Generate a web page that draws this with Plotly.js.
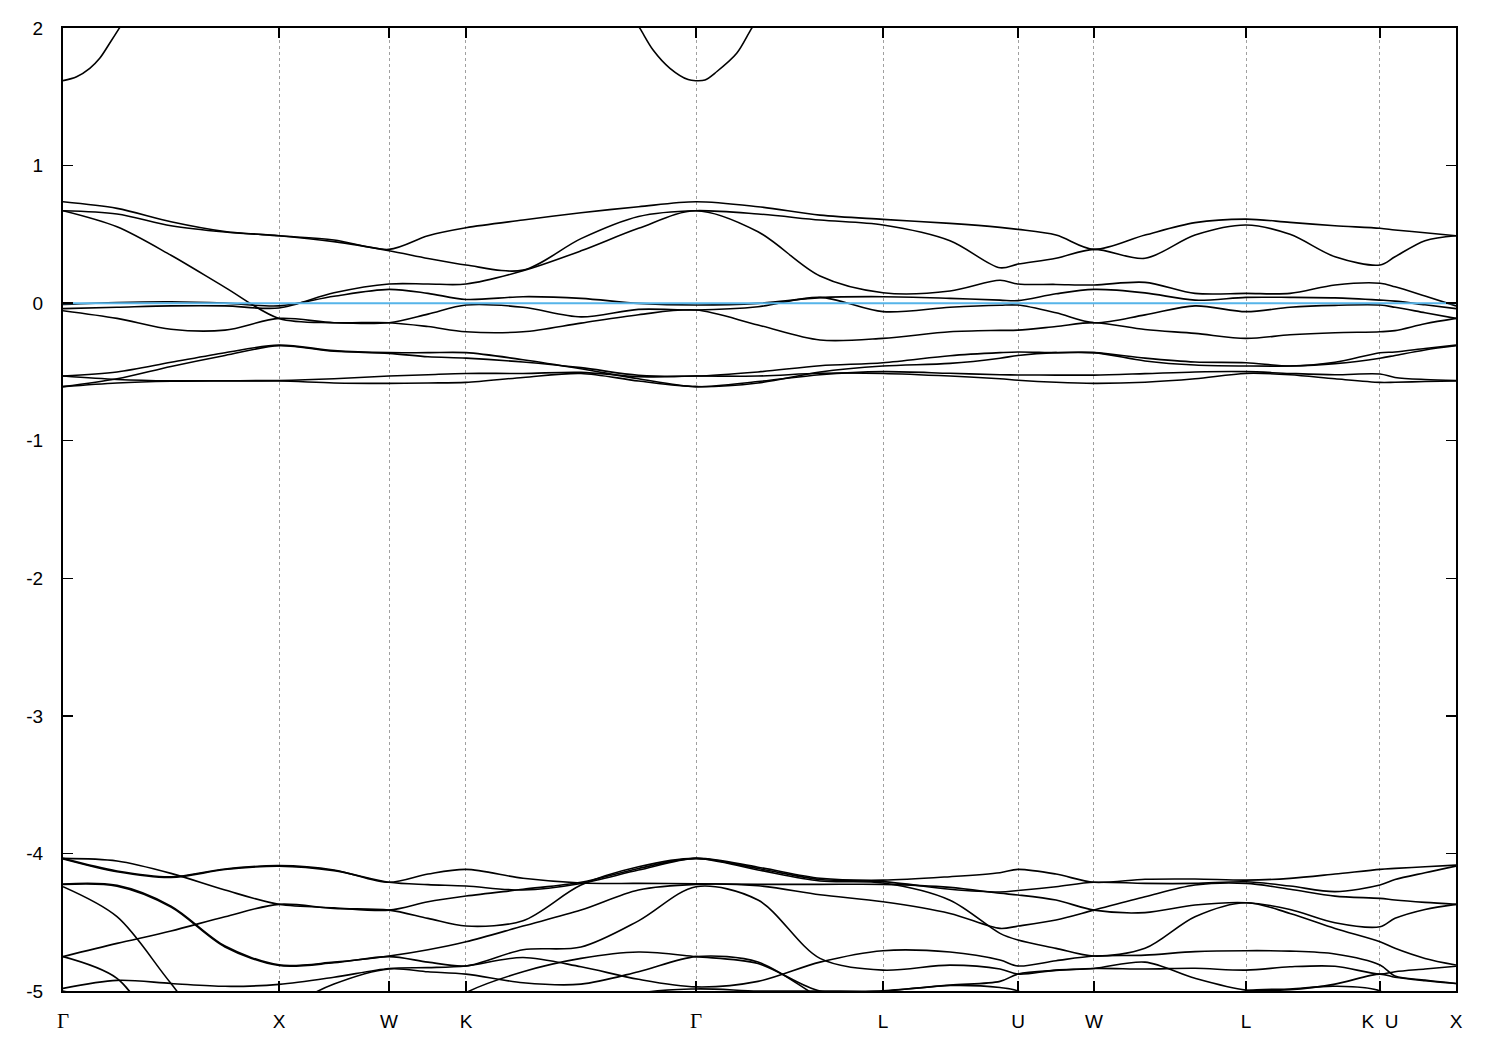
<!DOCTYPE html>
<html>
<head>
<meta charset="utf-8">
<script src="https://cdn.plot.ly/plotly-3.0.1.min.js"></script>
<style>html,body{margin:0;padding:0;background:#fff;}#chart{width:1500px;height:1050px;}</style>
</head>
<body>
<div id="chart"></div>
<script>
// k-path sample positions (distance along the Brillouin-zone path)
const kGrid = [0, 0.25, 0.5, 0.75, 1.0, 1.2546, 1.5093, 1.6898, 1.8657, 2.1296, 2.3981, 2.6644, 2.9306,
  3.2176, 3.5046, 3.7963, 4.1065, 4.3380, 4.4213, 4.5972, 4.7731, 5.0093, 5.2407, 5.4769, 5.6806,
  5.8889, 6.0972, 6.1667, 6.3056, 6.4491];

// high-symmetry points (K|U is a single tick)
const symK = [0, 1.0, 1.5093, 1.8657, 2.9306, 3.7963, 4.4213, 4.7731, 5.4769, 6.0972, 6.4491];
const symLabels = ['Γ', 'X', 'W', 'K', 'Γ', 'L', 'U', 'W', 'L', 'K\u00a0\u00a0U', 'X'];

const yTickVals = [-5, -4, -3, -2, -1, 0, 1, 2];
const yTickText = ['-5', '-4', '-3', '-2', '-1', '0', '1', '2'];

// conduction band near Gamma (eV)
const highLeftK = [0, 0.063, 0.124, 0.17, 0.216, 0.26, 0.30];
const highLeftE = [1.617, 1.646, 1.707, 1.780, 1.889, 1.997, 2.10];
const highMidK = [2.62, 2.671, 2.732, 2.810, 2.894, 2.9306, 2.972, 3.026, 3.119, 3.188, 3.24];
const highMidE = [2.12, 1.997, 1.840, 1.707, 1.625, 1.617, 1.622, 1.682, 1.816, 1.997, 2.12];

// bands around the Fermi level (eV)
const bandA1 = [0.737, 0.689, 0.592, 0.521, 0.490, 0.459, 0.391, 0.490, 0.548, 0.604, 0.657, 0.701, 0.737,
  0.701, 0.640, 0.609, 0.580, 0.551, 0.536, 0.495, 0.391, 0.495, 0.585, 0.611, 0.587, 0.563, 0.544, 0.532, 0.512, 0.490];
const bandA2 = [0.672, 0.648, 0.563, 0.517, 0.490, 0.447, 0.381, 0.325, 0.277, 0.240, 0.469, 0.630, 0.672,
  0.648, 0.604, 0.568, 0.454, 0.257, 0.284, 0.326, 0.391, 0.326, 0.495, 0.568, 0.500, 0.337, 0.277, 0.337, 0.454, 0.490];
const bandA3 = [-0.040, -0.030, -0.020, -0.020, -0.035, 0.075, 0.139, 0.139, 0.139, 0.235, 0.380, 0.544, 0.672,
  0.519, 0.197, 0.076, 0.088, 0.166, 0.139, 0.136, 0.132, 0.151, 0.071, 0.071, 0.071, 0.132, 0.145, 0.119, 0.052, -0.020];
const bandA4 = [-0.010, 0.005, 0.010, 0.000, -0.020, 0.050, 0.100, 0.071, 0.027, 0.047, 0.035, -0.002, -0.014,
  -0.002, 0.040, 0.047, 0.035, 0.022, 0.018, 0.068, 0.100, 0.075, 0.022, 0.042, 0.042, 0.038, 0.022, 0.015, -0.012, -0.040];
const bandA5 = [0.672, 0.555, 0.348, 0.115, -0.111, -0.142, -0.142, -0.080, -0.014, -0.030, -0.100, -0.045, -0.050,
  -0.026, 0.042, -0.062, -0.030, -0.015, -0.014, -0.070, -0.142, -0.085, -0.020, -0.062, -0.030, -0.016, -0.014, -0.030, -0.070, -0.111];
const bandA6 = [-0.055, -0.111, -0.190, -0.196, -0.111, -0.142, -0.142, -0.170, -0.208, -0.208, -0.145, -0.084, -0.050,
  -0.159, -0.268, -0.256, -0.208, -0.198, -0.196, -0.170, -0.142, -0.192, -0.220, -0.256, -0.230, -0.215, -0.208, -0.200, -0.150, -0.111];

// bands between -0.3 and -0.6 eV
const bandB1 = [-0.530, -0.500, -0.430, -0.360, -0.305, -0.345, -0.360, -0.360, -0.360, -0.411, -0.477, -0.550, -0.607,
  -0.570, -0.520, -0.498, -0.510, -0.520, -0.522, -0.523, -0.523, -0.512, -0.500, -0.498, -0.511, -0.520, -0.515, -0.540, -0.555, -0.562];
const bandB2 = [-0.607, -0.550, -0.460, -0.380, -0.310, -0.350, -0.365, -0.390, -0.400, -0.428, -0.469, -0.524, -0.530,
  -0.500, -0.455, -0.433, -0.382, -0.360, -0.355, -0.360, -0.360, -0.400, -0.428, -0.433, -0.457, -0.430, -0.360, -0.355, -0.330, -0.305];
const bandB3 = [-0.530, -0.555, -0.565, -0.564, -0.562, -0.550, -0.530, -0.520, -0.511, -0.511, -0.503, -0.535, -0.530,
  -0.530, -0.510, -0.511, -0.530, -0.550, -0.560, -0.575, -0.583, -0.575, -0.550, -0.511, -0.520, -0.550, -0.576, -0.575, -0.570, -0.566];
const bandB4 = [-0.607, -0.580, -0.568, -0.566, -0.566, -0.580, -0.583, -0.580, -0.576, -0.540, -0.511, -0.566, -0.607,
  -0.580, -0.500, -0.457, -0.438, -0.400, -0.380, -0.360, -0.360, -0.420, -0.450, -0.457, -0.457, -0.440, -0.400, -0.380, -0.340, -0.310];

// bands between -4 and -5 eV
const bandZ1 = [-4.036, -4.055, -4.145, -4.266, -4.370, -4.395, -4.412, -4.351, -4.310, -4.261, -4.210, -4.109, -4.036,
  -4.110, -4.190, -4.205, -4.260, -4.280, -4.270, -4.242, -4.210, -4.218, -4.218, -4.206, -4.237, -4.278, -4.230, -4.190, -4.140, -4.092];
const bandZ2 = [-4.036, -4.128, -4.170, -4.113, -4.089, -4.120, -4.210, -4.150, -4.116, -4.181, -4.215, -4.218, -4.220,
  -4.225, -4.225, -4.225, -4.247, -4.290, -4.302, -4.339, -4.412, -4.430, -4.375, -4.358, -4.407, -4.504, -4.533, -4.472, -4.407, -4.370];
const bandZ3 = [-4.040, -4.133, -4.175, -4.117, -4.092, -4.125, -4.210, -4.227, -4.237, -4.266, -4.218, -4.121, -4.036,
  -4.100, -4.180, -4.194, -4.169, -4.140, -4.116, -4.150, -4.210, -4.188, -4.186, -4.194, -4.181, -4.150, -4.116, -4.109, -4.097, -4.085];
const bandZ4 = [-4.222, -4.232, -4.383, -4.673, -4.810, -4.790, -4.746, -4.700, -4.642, -4.528, -4.412, -4.266, -4.225,
  -4.235, -4.300, -4.351, -4.436, -4.545, -4.528, -4.484, -4.412, -4.315, -4.230, -4.218, -4.260, -4.310, -4.327, -4.339, -4.356, -4.370];
const bandZ5 = [-4.226, -4.238, -4.390, -4.680, -4.815, -4.795, -4.750, -4.790, -4.818, -4.700, -4.680, -4.490, -4.242,
  -4.339, -4.763, -4.848, -4.812, -4.840, -4.877, -4.848, -4.836, -4.790, -4.908, -4.993, -4.990, -4.950, -4.877, -4.900, -4.925, -4.945];
const bandZ6 = [-4.242, -4.460, -4.945, -5.400, -5.150, -4.950, -4.840, -4.860, -4.877, -4.940, -4.950, -4.860, -4.750,
  -4.790, -5.050, -5.300, -5.300, -5.300, -5.300, -5.300, -5.300, -5.300, -5.300, -5.300, -5.300, -5.300, -5.300, -5.300, -5.300, -5.300];
const bandZ7 = [-4.750, -4.908, -5.400, -5.600, -5.600, -5.500, -5.400, -5.200, -5.012, -4.860, -4.763, -4.717, -4.750,
  -4.800, -5.000, -4.998, -4.957, -4.930, -4.877, -4.850, -4.836, -4.840, -4.835, -4.848, -4.824, -4.820, -4.877, -4.860, -4.840, -4.820];
const bandZ8 = [-4.750, -4.654, -4.564, -4.460, -4.370, -4.400, -4.412, -4.472, -4.528, -4.489, -4.230, -4.097, -4.036,
  -4.120, -4.200, -4.215, -4.340, -4.581, -4.630, -4.690, -4.746, -4.690, -4.460, -4.358, -4.436, -4.545, -4.642, -4.690, -4.763, -4.811];
const bandZ9 = [-4.981, -4.923, -4.945, -4.966, -4.952, -4.900, -4.836, -4.830, -4.818, -4.756, -4.824, -4.915, -4.970,
  -4.930, -4.790, -4.707, -4.717, -4.775, -4.818, -4.780, -4.746, -4.739, -4.714, -4.707, -4.710, -4.731, -4.811, -4.891, -4.920, -4.945];
const bandZ10 = [-5.000, -5.100, -5.300, -5.400, -5.400, -5.400, -5.400, -5.400, -5.400, -5.300, -5.200, -5.020, -4.985,
  -5.000, -5.000, -5.000, -4.960, -4.975, -5.000, -5.200, -5.300, -5.300, -5.100, -5.000, -4.985, -4.965, -5.000, -5.100, -5.200, -5.200];

// Fermi level
const fermiK = [0, 6.4491];
const fermiE = [0, 0];

const bandList = [bandA1, bandA2, bandA3, bandA4, bandA5, bandA6,
  bandB1, bandB2, bandB3, bandB4,
  bandZ1, bandZ2, bandZ3, bandZ4, bandZ5, bandZ6, bandZ7, bandZ8, bandZ9, bandZ10];

const lineStyle = {color: '#000000', width: 1.6, shape: 'spline', smoothing: 0.9};
const traces = [];
traces.push({x: highLeftK, y: highLeftE, mode: 'lines', line: lineStyle, hoverinfo: 'skip'});
traces.push({x: highMidK, y: highMidE, mode: 'lines', line: lineStyle, hoverinfo: 'skip'});
bandList.forEach(b => traces.push({x: kGrid, y: b, mode: 'lines', line: lineStyle, hoverinfo: 'skip'}));
traces.push({x: fermiK, y: fermiE, mode: 'lines', line: {color: 'rgb(86,180,233)', width: 2}, hoverinfo: 'skip'});

const tickText = symLabels.map(s => s === 'Γ'
  ? '<span style="font-family:\'Liberation Serif\', serif; font-size:21px">Γ</span>' : s);

const layout = {
  width: 1500, height: 1050,
  margin: {l: 63, r: 44, t: 28, b: 59, pad: 0},
  paper_bgcolor: '#ffffff', plot_bgcolor: '#ffffff',
  showlegend: false,
  font: {family: 'Liberation Sans, Arial, sans-serif', size: 19, color: '#000000'},
  xaxis: {
    range: [0, 6.4491], tickmode: 'array', tickvals: symK, ticktext: tickText, tickangle: 0,
    ticks: 'inside', ticklen: 10, tickwidth: 1.5, tickcolor: '#000',
    showline: true, linecolor: '#000', linewidth: 2, mirror: 'ticks',
    showgrid: true, gridcolor: '#a0a0a0', gridwidth: 1, griddash: '3px,3px',
    zeroline: false, ticklabelstandoff: 12, fixedrange: true
  },
  yaxis: {
    range: [-5, 2], tickmode: 'array', tickvals: yTickVals, ticktext: yTickText,
    ticks: 'inside', ticklen: 10, tickwidth: 1.5, tickcolor: '#000',
    showline: true, linecolor: '#000', linewidth: 2, mirror: 'ticks',
    showgrid: false, zeroline: false, ticklabelstandoff: 14, fixedrange: true
  }
};

Plotly.newPlot('chart', traces, layout, {staticPlot: true, displayModeBar: false});
</script>
</body>
</html>
